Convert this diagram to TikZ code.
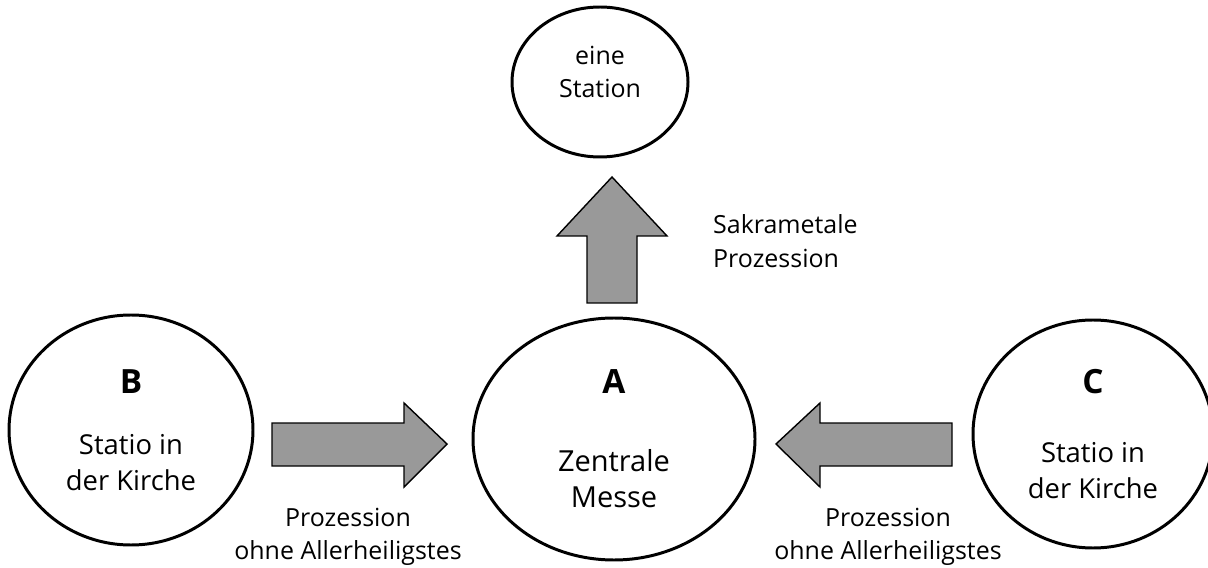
\documentclass[tikz,border=0pt]{standalone}
\usepackage{fontspec}
\setmainfont{Open Sans}
\usepackage{tikz}
\usetikzlibrary{shapes.geometric}

\newcommand{\stationletter}[1]{{\fontsize{19}{21}\selectfont\bfseries #1}}

\begin{document}
\begin{tikzpicture}[
		station/.style={shape=ellipse, draw=black, line width=1.7pt, inner sep=0pt, align=center},
		blockarrow/.style={draw=black, line width=0.8pt, fill=black!40, line join=miter},
		caption/.style={align=center, font=\fontsize{14.2}{18.5}\selectfont}
	]
			\useasboundingbox (0,0) rectangle (24.16,11.34);
			
			\node[station, minimum width=3.52cm, minimum height=3cm, text depth=0.4cm, font=\fontsize{14.2}{19}\selectfont] (s) at (12,9.7) {eine\\Station};
			\node[station, minimum width=5.64cm, minimum height=4.84cm, font=\fontsize{16.5}{21}\selectfont] (a) at (12.28,2.56) {\stationletter{A}\\[23pt]Zentrale\\Messe};
			\node[station, minimum width=4.88cm, minimum height=4.6cm, font=\fontsize{15.6}{20.5}\selectfont] (b) at (2.62,2.74) {\stationletter{B}\\[14.5pt]Statio in\\der Kirche};
			\node[station, minimum width=4.8cm, minimum height=4.56cm, font=\fontsize{15.6}{20.5}\selectfont] (c) at (21.86,2.66) {\stationletter{C}\\[19pt]Statio in\\der Kirche};
			
			% Sakramentsprozession nach oben
			\draw[blockarrow] (11.74,5.28) -- (11.74,6.62) -- (11.14,6.62) -- (12.24,7.80) -- (13.34,6.62) -- (12.74,6.62) -- (12.74,5.28) -- cycle;
			% Prozessionen von B und C
			\draw[blockarrow] (5.44,2.88) -- (8.08,2.88) -- (8.08,3.28) -- (8.94,2.46) -- (8.08,1.60) -- (8.08,2.02) -- (5.44,2.02) -- cycle;
			\draw[blockarrow] (19.04,2.88) -- (16.40,2.88) -- (16.40,3.28) -- (15.52,2.46) -- (16.40,1.60) -- (16.40,2.02) -- (19.04,2.02) -- cycle;
			
			\node[caption, anchor=west, align=left, font=\fontsize{14.2}{19.5}\selectfont] (sp) at (14.14,6.51) {Sakrametale\\Prozession};
			\node[caption] (pb) at (6.96,0.6) {Prozession\\ohne Allerheiligstes};
			\node[caption] (pc) at (17.76,0.6) {Prozession\\ohne Allerheiligstes};
		\end{tikzpicture}
\end{document}
